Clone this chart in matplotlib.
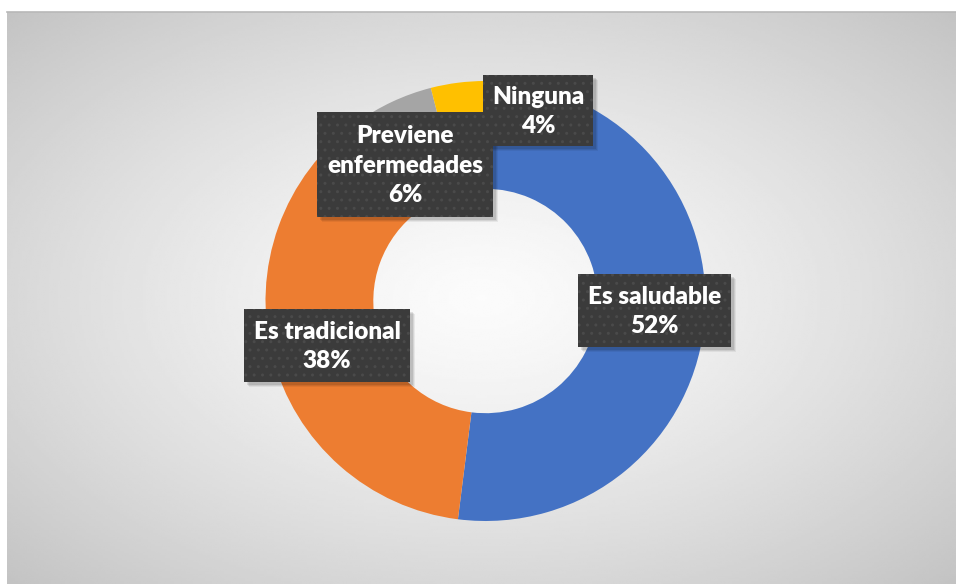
import matplotlib
matplotlib.use("Agg")
import matplotlib.pyplot as plt
from matplotlib.patches import Rectangle
import numpy as np

# data
categorias = ["Es saludable", "Es tradicional", "Previene\nenfermedades", "Ninguna"]
valores = [52, 38, 6, 4]
colores = ["#4472C4", "#ED7D31", "#A5A5A5", "#FFC000"]

W, H = 956, 584
fig = plt.figure(figsize=(W / 100, H / 100), dpi=100)
fig.patch.set_facecolor("white")

def fx(px):
    return px / W

def fy(py):
    return 1 - py / H

# panel with radial gradient background
x0, y0, x1, y1 = 7, 12, 956, 584
bg = fig.add_axes([fx(x0), fy(y1), fx(x1 - x0), (y1 - y0) / H])
bg.set_axis_off()
gx, gy = np.meshgrid(np.linspace(-1, 1, 400), np.linspace(-1, 1, 250))
d = np.sqrt(gx ** 2 + gy ** 2) / np.sqrt(2)
shade = 0.985 - 0.22 * d ** 1.3
bg.imshow(shade, cmap="gray", vmin=0, vmax=1, aspect="auto",
          extent=[0, 1, 0, 1], interpolation="bilinear")
bg.set_xlim(0, 1)
bg.set_ylim(0, 1)
bg.plot([0, 1], [1, 1], color="#b8b8b8", lw=1.2, clip_on=False)

# donut
cx, cy, R = 485.5, 301, 220
ax = fig.add_axes([fx(cx - R), fy(cy + R), 2 * R / W, 2 * R / H])
ax.set_axis_off()
ax.patch.set_alpha(0)
ax.pie(valores, colors=colores, startangle=90, counterclock=False, radius=1,
       wedgeprops=dict(width=0.49, edgecolor="none"))
ax.set_xlim(-1, 1)
ax.set_ylim(-1, 1)
ax.set_aspect("equal")

# label boxes (left, top, right, bottom in pixels)
cajas = [
    (578, 274, 731, 347),
    (244, 309, 410, 382),
    (317, 112, 493, 217),
    (483, 75, 593, 146),
]

plt.rcParams["hatch.linewidth"] = 1.0
for cat, val, (l, t, r, b) in zip(categorias, valores, cajas):
    # soft shadow
    for k, a in [(5, 0.06), (4, 0.08), (3, 0.1)]:
        fig.add_artist(Rectangle((fx(l + k), fy(b + k)), fx(r - l), (b - t) / H,
                                 transform=fig.transFigure, facecolor="black",
                                 alpha=a, edgecolor="none", zorder=5))
    fig.add_artist(Rectangle((fx(l), fy(b)), fx(r - l), (b - t) / H,
                             transform=fig.transFigure, facecolor="#3b3b3b",
                             edgecolor="#4a4a4a", linewidth=0, hatch="..",
                             zorder=6))
    fig.text(fx((l + r) / 2), fy((t + b) / 2) - 0.002, f"{cat}\n{val}%",
             ha="center", va="center", color="white", fontsize=17.5,
             fontweight="heavy", family=["Lato", "DejaVu Sans"],
             linespacing=1.42, zorder=7)

fig.savefig("out.png", dpi=100)
